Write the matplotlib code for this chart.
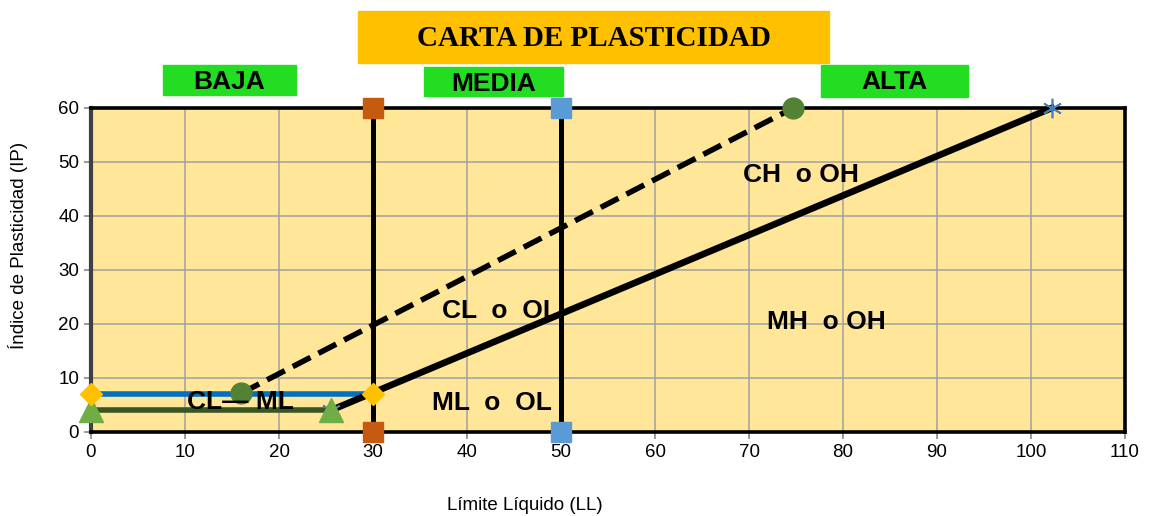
import matplotlib
matplotlib.use("Agg")
import matplotlib.pyplot as plt
from matplotlib.patches import Rectangle

plt.rcParams['font.family'] = ['Liberation Sans', 'DejaVu Sans']

# Line A: IP = 0.73 (LL - 20)
a_line_ll = [25.5, 102.2]
a_line_ip = [4.0, 60.0]
# Line U: IP = 0.9 (LL - 8)
u_line_ll = [16.0, 74.7]
u_line_ip = [7.2, 60.0]
# Horizontal limits of the CL-ML zone
upper_ll = [0, 30]
upper_ip = [7, 7]
lower_ll = [0, 25.5]
lower_ip = [4, 4]
# Vertical divisions low / medium / high
div30_ll = [30, 30]
div30_ip = [0, 60]
div50_ll = [50, 50]
div50_ip = [0, 60]

zone_labels = ["CH  o OH", "CL  o  OL", "MH  o OH", "ML  o  OL", "CL\u2014 ML"]
zone_x = [75.5, 43.6, 78.2, 42.7, 15.9]
zone_y = [47.6, 22.4, 20.4, 5.3, 5.6]

xticks = list(range(0, 111, 10))
yticks = list(range(0, 61, 10))

fig = plt.figure(figsize=(11.54, 5.16), dpi=100)
ax = fig.add_axes([91/1154, 84/516, 1034/1154, 324/516])
ax.set_facecolor('#FFE699')
ax.set_xlim(0, 110)
ax.set_ylim(0, 60)
ax.set_xticks(xticks)
ax.set_yticks(yticks)
ax.grid(True, color='#A0A0A0', lw=1.1, zorder=0)
ax.set_axisbelow(True)
ax.tick_params(labelsize=13.5, labelcolor='#000000', length=5, width=1.2,
               direction='out', color='#888888')
for s in ['top', 'right', 'bottom']:
    ax.spines[s].set_color('black')
    ax.spines[s].set_linewidth(2.6)
ax.spines['left'].set_color('#404040')
ax.spines['left'].set_linewidth(3)

kw = dict(clip_on=False)
ax.plot(a_line_ll, a_line_ip, color='black', lw=4.8, zorder=5, **kw)
ax.plot(a_line_ll, a_line_ip, ls='none', marker=(6, 2, 0), ms=14,
        mec='#4A7EBB', mew=1.2, zorder=6, **kw)
ax.plot(lower_ll, lower_ip, color='#375623', lw=4, zorder=3, **kw)
ax.plot(lower_ll, lower_ip, ls='none', marker='^', ms=17,
        mfc='#70AD47', mec='#70AD47', zorder=8, **kw)
ax.plot(div30_ll, div30_ip, color='black', lw=3.6, marker='s', ms=14,
        mfc='#C55A11', mec='#C55A11', zorder=5, **kw)
ax.plot(div50_ll, div50_ip, color='black', lw=3.6, marker='s', ms=14,
        mfc='#5B9BD5', mec='#5B9BD5', zorder=5, **kw)
ax.plot(upper_ll, upper_ip, color='#0070C0', lw=4, zorder=4, **kw)
ax.plot(upper_ll, upper_ip, ls='none', marker='D', ms=11,
        mfc='#FFC000', mec='#FFC000', zorder=8, **kw)
ax.plot(u_line_ll, u_line_ip, color='black', lw=4, ls=(0, (3.6, 1.6)),
        marker='o', ms=15, mfc='#548235', mec='#548235', zorder=5, **kw)

for t, x, y in zip(zone_labels, zone_x, zone_y):
    ax.text(x, y, t, fontsize=19, fontweight='bold', ha='center', va='center', zorder=7)

fig.text(525/1154, 1 - 505/516, 'Límite Líquido (LL)', fontsize=13.5, ha='center', va='center')
fig.text(18/1154, 1 - 245/516, 'Índice de Plasticidad (IP)', fontsize=13.5, rotation=90,
         ha='center', va='center')

# Header boxes
def header_box(x0, y0, x1, y1, color, text, dy=0, **tkw):
    fig.patches.append(Rectangle((x0/1154, 1 - y1/516), (x1 - x0)/1154, (y1 - y0)/516,
                                 transform=fig.transFigure, color=color, zorder=0))
    fig.text((x0 + x1)/2/1154, 1 - ((y0 + y1)/2 + dy)/516, text,
             ha='center', va='center', **tkw)

header_box(358, 11, 829, 63, '#FFC000', 'CARTA DE PLASTICIDAD', dy=2,
           fontsize=21, fontweight='bold', family=['Liberation Serif', 'DejaVu Serif'])
header_box(163, 65, 296, 95, '#22DD22', 'BAJA', dy=2, fontsize=19, fontweight='bold')
header_box(424, 67, 563, 96, '#22DD22', 'MEDIA', dy=2, fontsize=19, fontweight='bold')
header_box(821, 65, 968, 97, '#22DD22', 'ALTA', dy=1, fontsize=19, fontweight='bold')

fig.savefig('out.png', dpi=100)
